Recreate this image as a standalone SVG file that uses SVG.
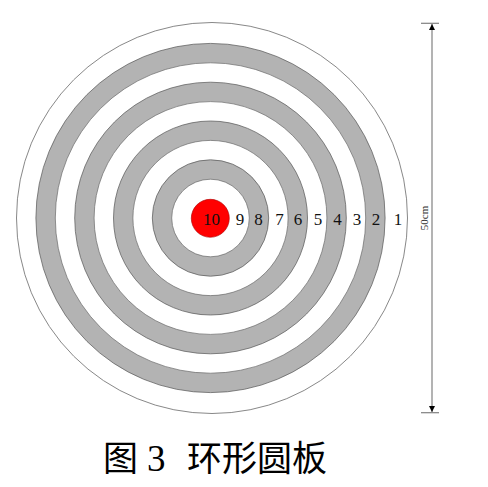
<svg xmlns="http://www.w3.org/2000/svg" width="488" height="487" viewBox="0 0 488 487">
<defs>
<style>
.w{fill:#ffffff;stroke:#6a6a6a;stroke-width:0.7}
.g{fill:#b3b3b3;stroke:#555555;stroke-width:0.7}
.num{font-family:"Liberation Serif","Times New Roman",serif;font-size:17px;fill:#111;text-anchor:middle}
.dim{stroke:#808080;stroke-width:1.2;fill:none}
</style>
<marker id="arr" viewBox="0 0 10 10" refX="10" refY="5" markerWidth="6" markerHeight="9" markerUnits="userSpaceOnUse" orient="auto">
<path d="M0,0 L10,5 L0,10 Z" fill="#000"/>
</marker>
</defs>
<rect width="488" height="487" fill="#ffffff"/>
<g id="target">
<circle cx="212" cy="218" r="195.5" fill="#fff" stroke="#888" stroke-width="1"/>
<circle class="g" cx="210.5" cy="218" r="174.6"/>
<circle class="w" cx="210.5" cy="218" r="155.2"/>
<circle class="g" cx="210.5" cy="218" r="135.8"/>
<circle class="w" cx="210.5" cy="218" r="116.4"/>
<circle class="g" cx="210.5" cy="218" r="97"/>
<circle class="w" cx="210.5" cy="218" r="77.6"/>
<circle class="g" cx="210.5" cy="218" r="58.2"/>
<circle class="w" cx="210.5" cy="218" r="38.8"/>
<circle cx="210.3" cy="218.3" r="19" fill="#ff0000" stroke="#a00" stroke-width="0.6"/>
</g>
<g id="labels">
<text class="num" x="211.5" y="225">10</text>
<text class="num" x="240" y="225">9</text>
<text class="num" x="258.5" y="225">8</text>
<text class="num" x="279.5" y="225">7</text>
<text class="num" x="298" y="225">6</text>
<text class="num" x="318" y="225">5</text>
<text class="num" x="337.5" y="225">4</text>
<text class="num" x="357" y="225">3</text>
<text class="num" x="376" y="225">2</text>
<text class="num" x="398" y="225">1</text>
</g>
<g id="connectors">
<line class="dim" x1="421" y1="23.3" x2="439" y2="23.3"/>
<line class="dim" x1="421" y1="412.7" x2="439" y2="412.7"/>
<line class="dim" x1="432" y1="218" x2="432" y2="24" marker-end="url(#arr)"/>
<line class="dim" x1="432" y1="218" x2="432" y2="412" marker-end="url(#arr)"/>
</g>
<g id="dimension-label">
<text x="0" y="0" transform="translate(428 218) rotate(-90)" font-family="Liberation Serif, Times New Roman, serif" font-size="11" fill="#333" text-anchor="middle">50cm</text>
</g>
<g id="caption">
<text y="471" font-family="Noto Sans CJK SC, sans-serif" font-size="35" fill="#000"><tspan x="103">图</tspan><tspan x="187">环形圆板</tspan></text>
<text x="147" y="471" font-family="Liberation Serif, Times New Roman, serif" font-size="37" fill="#000">3</text>
</g>
</svg>
